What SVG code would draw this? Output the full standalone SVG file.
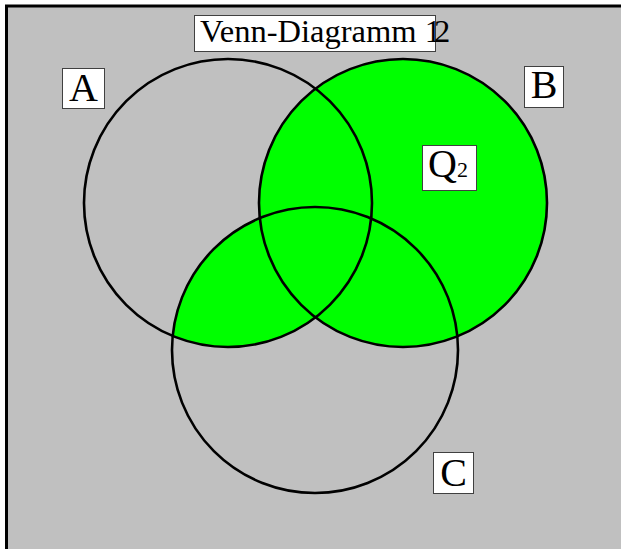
<svg xmlns="http://www.w3.org/2000/svg" width="621" height="549" viewBox="0 0 621 549">
<defs>
<style>
.box{fill:#fff;stroke:#404040;stroke-width:1;}
.ring{fill:none;stroke:#000;stroke-width:2.6;}
</style>
<clipPath id="clipA"><circle cx="228" cy="203" r="144"/></clipPath>
</defs>
<rect id="frame" x="6.5" y="6" width="640" height="580" fill="#c0c0c0" stroke="#000" stroke-width="3"/>
<g id="fills">
<circle cx="403" cy="203" r="144" fill="#00ff00"/>
<circle cx="315" cy="350" r="143" fill="#00ff00" clip-path="url(#clipA)"/>
</g>
<g id="setA"><circle class="ring" cx="228" cy="203" r="144"/></g>
<g id="setB"><circle class="ring" cx="403" cy="203" r="144"/></g>
<g id="setC"><circle class="ring" cx="315" cy="350" r="143"/></g>
<g font-family="'Liberation Serif', 'Times New Roman', 'DejaVu Serif', serif" fill="#000">
<g id="title">
<rect class="box" x="194.5" y="15.5" width="241" height="36"/>
<text x="200" y="42" font-size="32.5">Venn-Diagramm 1</text>
<text x="434" y="42" font-size="32.5">2</text>
</g>
<g id="labelA">
<rect class="box" x="62.5" y="68.5" width="42" height="40"/>
<text x="83.5" y="101" font-size="40" text-anchor="middle">A</text>
</g>
<g id="labelB">
<rect class="box" x="524.5" y="66.5" width="39" height="41"/>
<text x="544" y="98" font-size="40" text-anchor="middle">B</text>
</g>
<g id="labelQ2">
<rect class="box" x="422.5" y="145.5" width="54" height="45"/>
<text x="428" y="177" font-size="40">Q<tspan font-size="22">2</tspan></text>
</g>
<g id="labelC">
<rect class="box" x="433.5" y="452.5" width="40" height="41"/>
<text x="453.5" y="486" font-size="40" text-anchor="middle">C</text>
</g>
</g>
</svg>
